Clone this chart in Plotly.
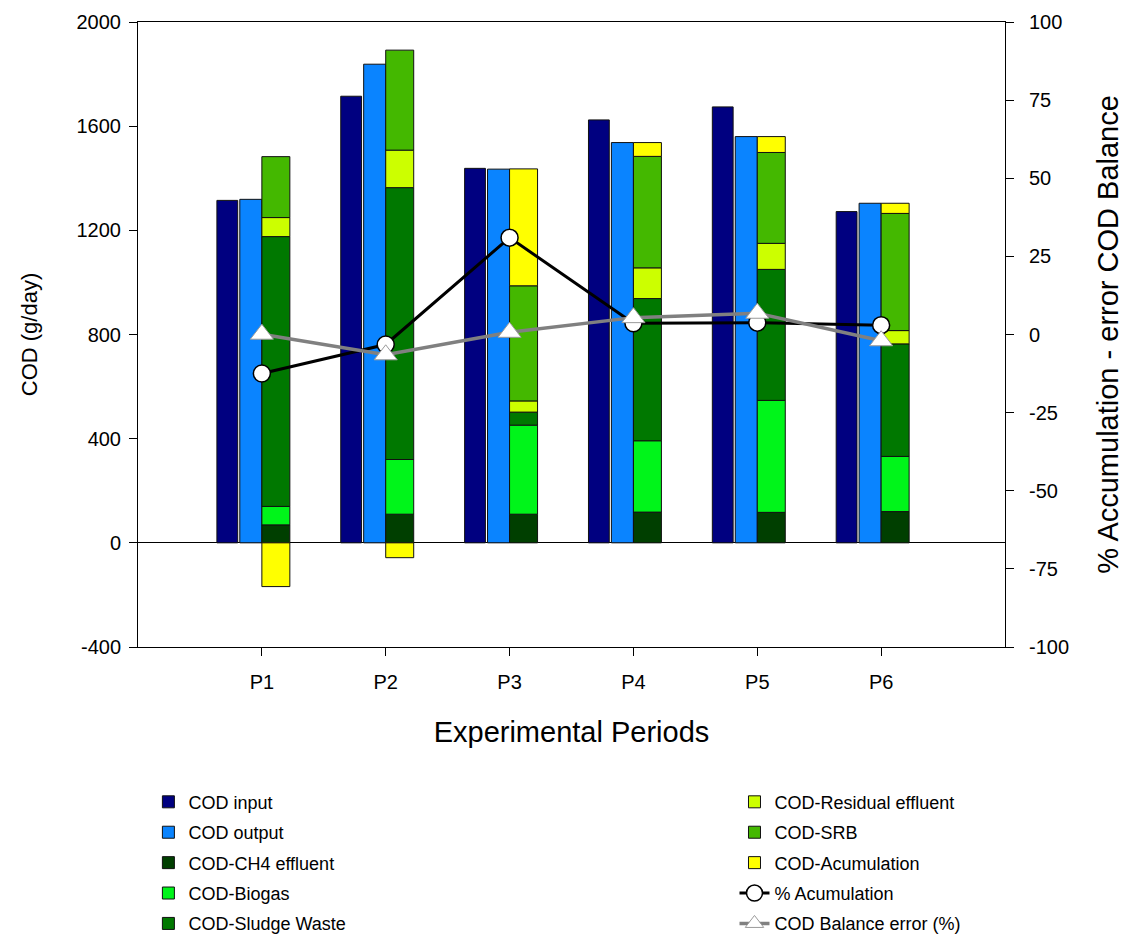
import plotly.graph_objects as go

# ---- data ----
periods = ["P1", "P2", "P3", "P4", "P5", "P6"]
cod_input = [1315, 1715, 1438, 1624, 1674, 1272]
cod_output = [1319, 1838, 1435, 1537, 1560, 1304]
cod_ch4_effluent = [69, 110, 110, 118, 117, 120]
cod_biogas = [71, 210, 342, 274, 430, 212]
cod_sludge_waste = [1036, 1044, 50, 546, 503, 432]
cod_residual_effluent = [73, 144, 43, 118, 100, 51]
cod_srb = [234, 384, 442, 428, 349, 450]
cod_accumulation = [-168, -57, 449, 53, 61, 39]
pct_accumulation = [-12.5, -3.2, 31.0, 3.6, 3.8, 3.0]
balance_error = [0.1, -6.5, 0.7, 5.4, 6.8, -2.0]

# tick labels (plain hyphen minus, as in the reference)
left_ticks = [-400, 0, 400, 800, 1200, 1600, 2000]
left_ticklabels = ["-400", "0", "400", "800", "1200", "1600", "2000"]
right_ticks = [-100, -75, -50, -25, 0, 25, 50, 75, 100]
right_ticklabels = ["-100", "-75", "-50", "-25", "0", "25", "50", "75", "100"]

FONT = "Arial, Liberation Sans, sans-serif"
pos = list(range(1, len(periods) + 1))
x_in = [p - 0.279 for p in pos]
x_out = [p - 0.089 for p in pos]
x_stack = [p + 0.113 for p in pos]

fig = go.Figure()
edge = dict(color="#111111", width=1)

fig.add_trace(go.Bar(x=x_in, y=cod_input, width=0.168, name="COD input",
                     marker=dict(color="#000080", line=edge), legend="legend",
                     legendgroup="a1"))
fig.add_trace(go.Bar(x=x_out, y=cod_output, width=0.178, name="COD output",
                     marker=dict(color="#0A84FF", line=edge), legend="legend",
                     legendgroup="a2"))

stack = [
    ("COD-CH4 effluent", cod_ch4_effluent, "#003F00", "legend"),
    ("COD-Biogas", cod_biogas, "#00F51A", "legend"),
    ("COD-Sludge Waste", cod_sludge_waste, "#007800", "legend"),
    ("COD-Residual effluent", cod_residual_effluent, "#CCFF00", "legend2"),
    ("COD-SRB", cod_srb, "#44B800", "legend2"),
    ("COD-Acumulation", cod_accumulation, "#FFFF00", "legend2"),
]
for i, (name, vals, col, leg) in enumerate(stack):
    fig.add_trace(go.Bar(x=x_stack, y=vals, width=0.226, name=name,
                         marker=dict(color=col, line=edge), legend=leg,
                         legendgroup="b%d" % i))

fig.add_trace(go.Scatter(x=pos, y=pct_accumulation, yaxis="y2", name="% Acumulation",
                         mode="lines+markers",
                         line=dict(color="black", width=3),
                         marker=dict(symbol="circle", size=17, color="white",
                                     line=dict(color="black", width=1.5)),
                         legend="legend2", legendgroup="c1"))
fig.add_trace(go.Scatter(x=pos, y=balance_error, yaxis="y2", name="COD Balance error (%)",
                         mode="lines+markers",
                         line=dict(color="#808080", width=3.5),
                         marker=dict(symbol="triangle-up", size=20, color="white",
                                     line=dict(color="#9a9a9a", width=1)),
                         legend="legend2", legendgroup="c2"))

tickfont = dict(family=FONT, size=20, color="black")
leg_common = dict(font=dict(family=FONT, size=18, color="black"),
                  bgcolor="rgba(0,0,0,0)", tracegroupgap=4,
                  yanchor="top", xanchor="left", orientation="v")

fig.update_layout(
    width=1134, height=941,
    margin=dict(l=138, r=129, t=22, b=294, autoexpand=False),
    paper_bgcolor="white", plot_bgcolor="white",
    barmode="relative",
    font=dict(family=FONT, color="black"),
    xaxis=dict(range=[0, 7], tickvals=pos, ticktext=periods,
               showline=True, mirror=True, linecolor="black", linewidth=1,
               ticks="outside", ticklen=8, tickcolor="black",
               showgrid=False, zeroline=False, tickfont=tickfont,
               ticklabelstandoff=9, automargin=False,
               title=dict(text="Experimental Periods",
                          font=dict(family=FONT, size=29), standoff=29)),
    yaxis=dict(range=[-400, 2000], tickvals=left_ticks, ticktext=left_ticklabels,
               showline=True, linecolor="black",
               linewidth=1, ticks="outside", ticklen=8, tickcolor="black",
               showgrid=False, zeroline=True, zerolinecolor="black",
               zerolinewidth=1, tickfont=tickfont, ticklabelstandoff=4,
               automargin=False,
               title=dict(text="COD (g/day)", font=dict(family=FONT, size=22),
                          standoff=32)),
    yaxis2=dict(range=[-100, 100], tickvals=right_ticks, ticktext=right_ticklabels,
                overlaying="y", side="right",
                showline=True, linecolor="black", linewidth=1,
                ticks="outside", ticklen=8, tickcolor="black",
                showgrid=False, zeroline=False, tickfont=tickfont,
                ticklabelstandoff=11, automargin=False,
                title=dict(text="% Accumulation - error COD Balance",
                           font=dict(family=FONT, size=29), standoff=29)),
    legend=dict(x=0.012, y=-0.2186, **leg_common),
    legend2=dict(x=0.688, y=-0.2186, **leg_common),
)

fig.write_html("out.html")
